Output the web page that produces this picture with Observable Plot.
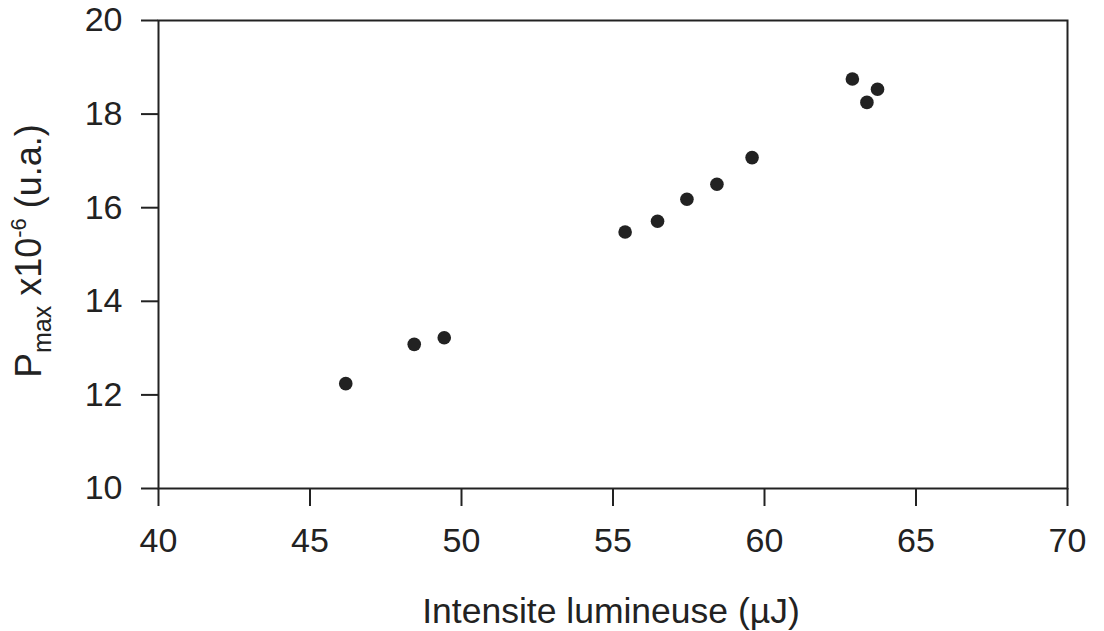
<!DOCTYPE html>
<html>
<head>
<meta charset="utf-8">
<script src="https://cdn.jsdelivr.net/npm/d3@7"></script>
<script src="https://cdn.jsdelivr.net/npm/@observablehq/plot@0.6"></script>
<style>
  html, body { margin: 0; padding: 0; background: #fff; }
  #chart { width: 1104px; height: 631px; }
</style>
</head>
<body>
<div id="chart"></div>
<script>
// Data
const intensite = [46.18, 48.44, 49.43, 55.40, 56.47, 57.44, 58.43, 59.59, 62.90, 63.38, 63.73];
const pmax      = [12.24, 13.08, 13.22, 15.48, 15.71, 16.18, 16.50, 17.07, 18.75, 18.25, 18.53];
const xTicks = [40, 45, 50, 55, 60, 65, 70];
const yTicks = [10, 12, 14, 16, 18, 20];
const xLabel = "Intensite lumineuse (\u00B5J)";
const yLabelParts = [
  {text: "P", role: "main"},
  {text: "max", role: "sub"},
  {text: " x10", role: "mid"},
  {text: "-6", role: "sup"},
  {text: " (u.a.)", role: "mid"}
];

const data = intensite.map((x, i) => ({x, y: pmax[i]}));
const ink = "#222";

const chart = Plot.plot({
  width: 1104,
  height: 631,
  marginLeft: 158,
  marginRight: 37,
  marginTop: 20,
  marginBottom: 143,
  style: {fontFamily: "'Liberation Sans', Arial, Helvetica, sans-serif", color: ink, background: "#fff"},
  x: {domain: [40, 70]},
  y: {domain: [10, 20]},
  marks: [
    Plot.frame({stroke: ink, strokeWidth: 2}),
    Plot.axisX({ticks: xTicks, tickSize: 18, tickPadding: 21, fontSize: 34, label: null, strokeWidth: 2, stroke: ink, fill: ink}),
    Plot.axisY({ticks: yTicks, tickSize: 17, tickPadding: 19, fontSize: 34, label: null, strokeWidth: 2, stroke: ink, fill: ink}),
    Plot.dot(data, {x: "x", y: "y", r: 6.8, fill: ink, stroke: "none"})
  ]
});

document.getElementById("chart").appendChild(chart);

const svg = d3.select(chart);
// x axis label
svg.append("text")
  .attr("x", 611)
  .attr("y", 623)
  .attr("text-anchor", "middle")
  .attr("font-size", 35.5)
  .attr("fill", ink)
  .text(xLabel);

// y axis label with subscript / superscript
const yl = svg.append("text")
  .attr("transform", "translate(41,251) rotate(-90)")
  .attr("text-anchor", "middle")
  .attr("fill", ink);
const sizes = {main: 37, sub: 25, mid: 36, sup: 22};
const shifts = {main: 0, sub: 10, mid: 0, sup: -15};
let prev = 0;
yLabelParts.forEach(p => {
  yl.append("tspan")
    .attr("font-size", sizes[p.role])
    .attr("dy", shifts[p.role] - prev)
    .text(p.text);
  prev = shifts[p.role];
});
</script>
</body>
</html>
